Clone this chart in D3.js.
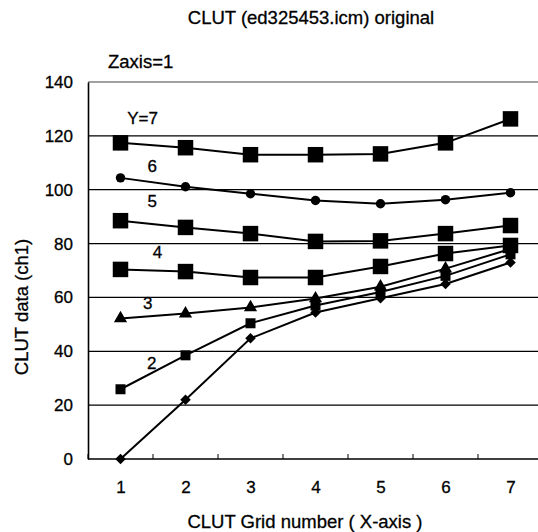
<!DOCTYPE html>
<html>
<head>
<meta charset="utf-8">
<script src="https://cdn.jsdelivr.net/npm/d3@7"></script>
<style>
  body { margin: 0; background: #fff; }
  text { font-family: "Liberation Sans", Arial, sans-serif; fill: #000; stroke: #000; stroke-width: 0.3px; }
</style>
</head>
<body>
<div id="graph"></div>
<script>
// CLUT grid numbers (x-axis)
var gridX = [1, 2, 3, 4, 5, 6, 7];
var yTicks = [0, 20, 40, 60, 80, 100, 120, 140];

// one series per Y grid value
var y1 = [0, 22, 44.8, 54.4, 59.7, 65, 73];
var y2 = [25.9, 38.5, 50.4, 57, 62, 68, 76];
var y3 = [52.2, 54, 56.3, 59.6, 64, 70.7, 78];
var y4 = [70.4, 69.6, 67.4, 67.4, 71.5, 76.3, 79.3];
var y5 = [88.5, 86, 83.7, 80.8, 81, 83.7, 86.7];
var y6 = [104.4, 101.1, 98.5, 96, 94.8, 96.3, 98.9];
var y7 = [117.4, 115.6, 113, 113, 113.3, 117.4, 126.3];

var seriesNames = ['1', '2', '3', '4', '5', '6', 'Y=7'];
var labelGrid = [null, 1.48, 1.42, 1.57, 1.49, 1.49, 1.34];
var labelValue = [null, 35.6, 57.8, 76.7, 95.9, 108.9, 126.7];

var series = [y1, y2, y3, y4, y5, y6, y7];
var markers = ['diamond', 'smallSquare', 'triangle', 'square', 'square', 'circle', 'square'];

var width = 538, height = 532;
var plotLeft = 88, plotRight = 543, plotTop = 82, plotBottom = 459;

var svg = d3.select('#graph')
    .append('svg')
        .attr('width', width)
        .attr('height', height);

var x = d3.scaleLinear()
    .domain([0.5, 7.5])
    .range([plotLeft, plotRight]);

var y = d3.scaleLinear()
    .domain([0, 140])
    .range([plotBottom, plotTop]);

// gridlines
svg.append('g')
    .selectAll('line')
    .data(yTicks.filter(function(d) { return d > 0; }))
    .enter().append('line')
        .attr('x1', plotLeft)
        .attr('x2', plotRight)
        .attr('y1', function(d) { return y(d); })
        .attr('y2', function(d) { return y(d); })
        .attr('stroke', function(d) { return d == 140 ? '#444' : '#000'; })
        .attr('stroke-width', 1.2);

// y axis
var yAxis = svg.append('g')
    .attr('transform', 'translate(' + plotLeft + ',0)')
    .call(d3.axisLeft(y).tickValues(yTicks).tickSize(0).tickPadding(15));
yAxis.select('.domain').attr('stroke', '#000').attr('stroke-width', 1.6);
yAxis.selectAll('text').style('font-size', '17px').attr('font-family', null);

// x axis with ticks at category boundaries
var xAxis = svg.append('g')
    .attr('transform', 'translate(0,' + plotBottom + ')')
    .call(d3.axisBottom(x).tickValues(gridX).tickSize(0).tickPadding(22).tickFormat(d3.format('d')));
xAxis.select('.domain').remove();
xAxis.selectAll('text').style('font-size', '17px').attr('font-family', null);

svg.append('line')
    .attr('x1', plotLeft).attr('x2', plotRight)
    .attr('y1', plotBottom).attr('y2', plotBottom)
    .attr('stroke', '#000').attr('stroke-width', 1.6);

svg.append('g')
    .selectAll('line')
    .data(d3.range(0.5, 8, 1))
    .enter().append('line')
        .attr('x1', function(d) { return x(d); })
        .attr('x2', function(d) { return x(d); })
        .attr('y1', plotBottom)
        .attr('y2', plotBottom - 5)
        .attr('stroke', '#000');

// lines
var line = d3.line()
    .x(function(d, i) { return x(gridX[i]); })
    .y(function(d) { return y(d); });

svg.append('g')
    .selectAll('path')
    .data(series)
    .enter().append('path')
        .attr('d', line)
        .attr('fill', 'none')
        .attr('stroke', '#000')
        .attr('stroke-width', 2);

function markerPath(kind) {
    if (kind == 'square') return d3.symbol(d3.symbolSquare, 240)();
    if (kind == 'smallSquare') return d3.symbol(d3.symbolSquare, 100)();
    if (kind == 'circle') return d3.symbol(d3.symbolCircle, 70)();
    if (kind == 'triangle') return d3.symbol(d3.symbolTriangle, 75)();
    return d3.symbol(d3.symbolSquare, 55)();
}

series.forEach(function(vals, s) {
    svg.append('g')
        .selectAll('path')
        .data(vals)
        .enter().append('path')
            .attr('d', markerPath(markers[s]))
            .attr('transform', function(d, i) {
                var t = 'translate(' + x(gridX[i]) + ',' + y(d) + ')';
                return markers[s] == 'diamond' ? t + ' rotate(45)' : t;
            })
            .attr('fill', '#000');
});

// series labels
svg.append('g')
    .selectAll('text')
    .data(seriesNames.map(function(n, i) { return {name: n, gx: labelGrid[i], v: labelValue[i]}; })
        .filter(function(d) { return d.gx != null; }))
    .enter().append('text')
        .attr('x', function(d) { return x(d.gx); })
        .attr('y', function(d) { return y(d.v); })
        .attr('dy', '0.35em')
        .attr('text-anchor', 'middle')
        .style('font-size', '17px')
        .text(function(d) { return d.name; });

// titles
svg.append('text')
    .attr('x', 311).attr('y', 24)
    .attr('text-anchor', 'middle')
    .style('font-size', '18.5px')
    .text('CLUT (ed325453.icm) original');

svg.append('text')
    .attr('x', 108).attr('y', 68)
    .style('font-size', '18.5px')
    .text('Zaxis=1');

svg.append('text')
    .attr('transform', 'translate(28,307) rotate(-90)')
    .attr('text-anchor', 'middle')
    .style('font-size', '18.5px')
    .text('CLUT data (ch1)');

svg.append('text')
    .attr('x', 305).attr('y', 528)
    .attr('text-anchor', 'middle')
    .style('font-size', '18.5px')
    .text('CLUT Grid number ( X-axis )');
</script>
</body>
</html>
